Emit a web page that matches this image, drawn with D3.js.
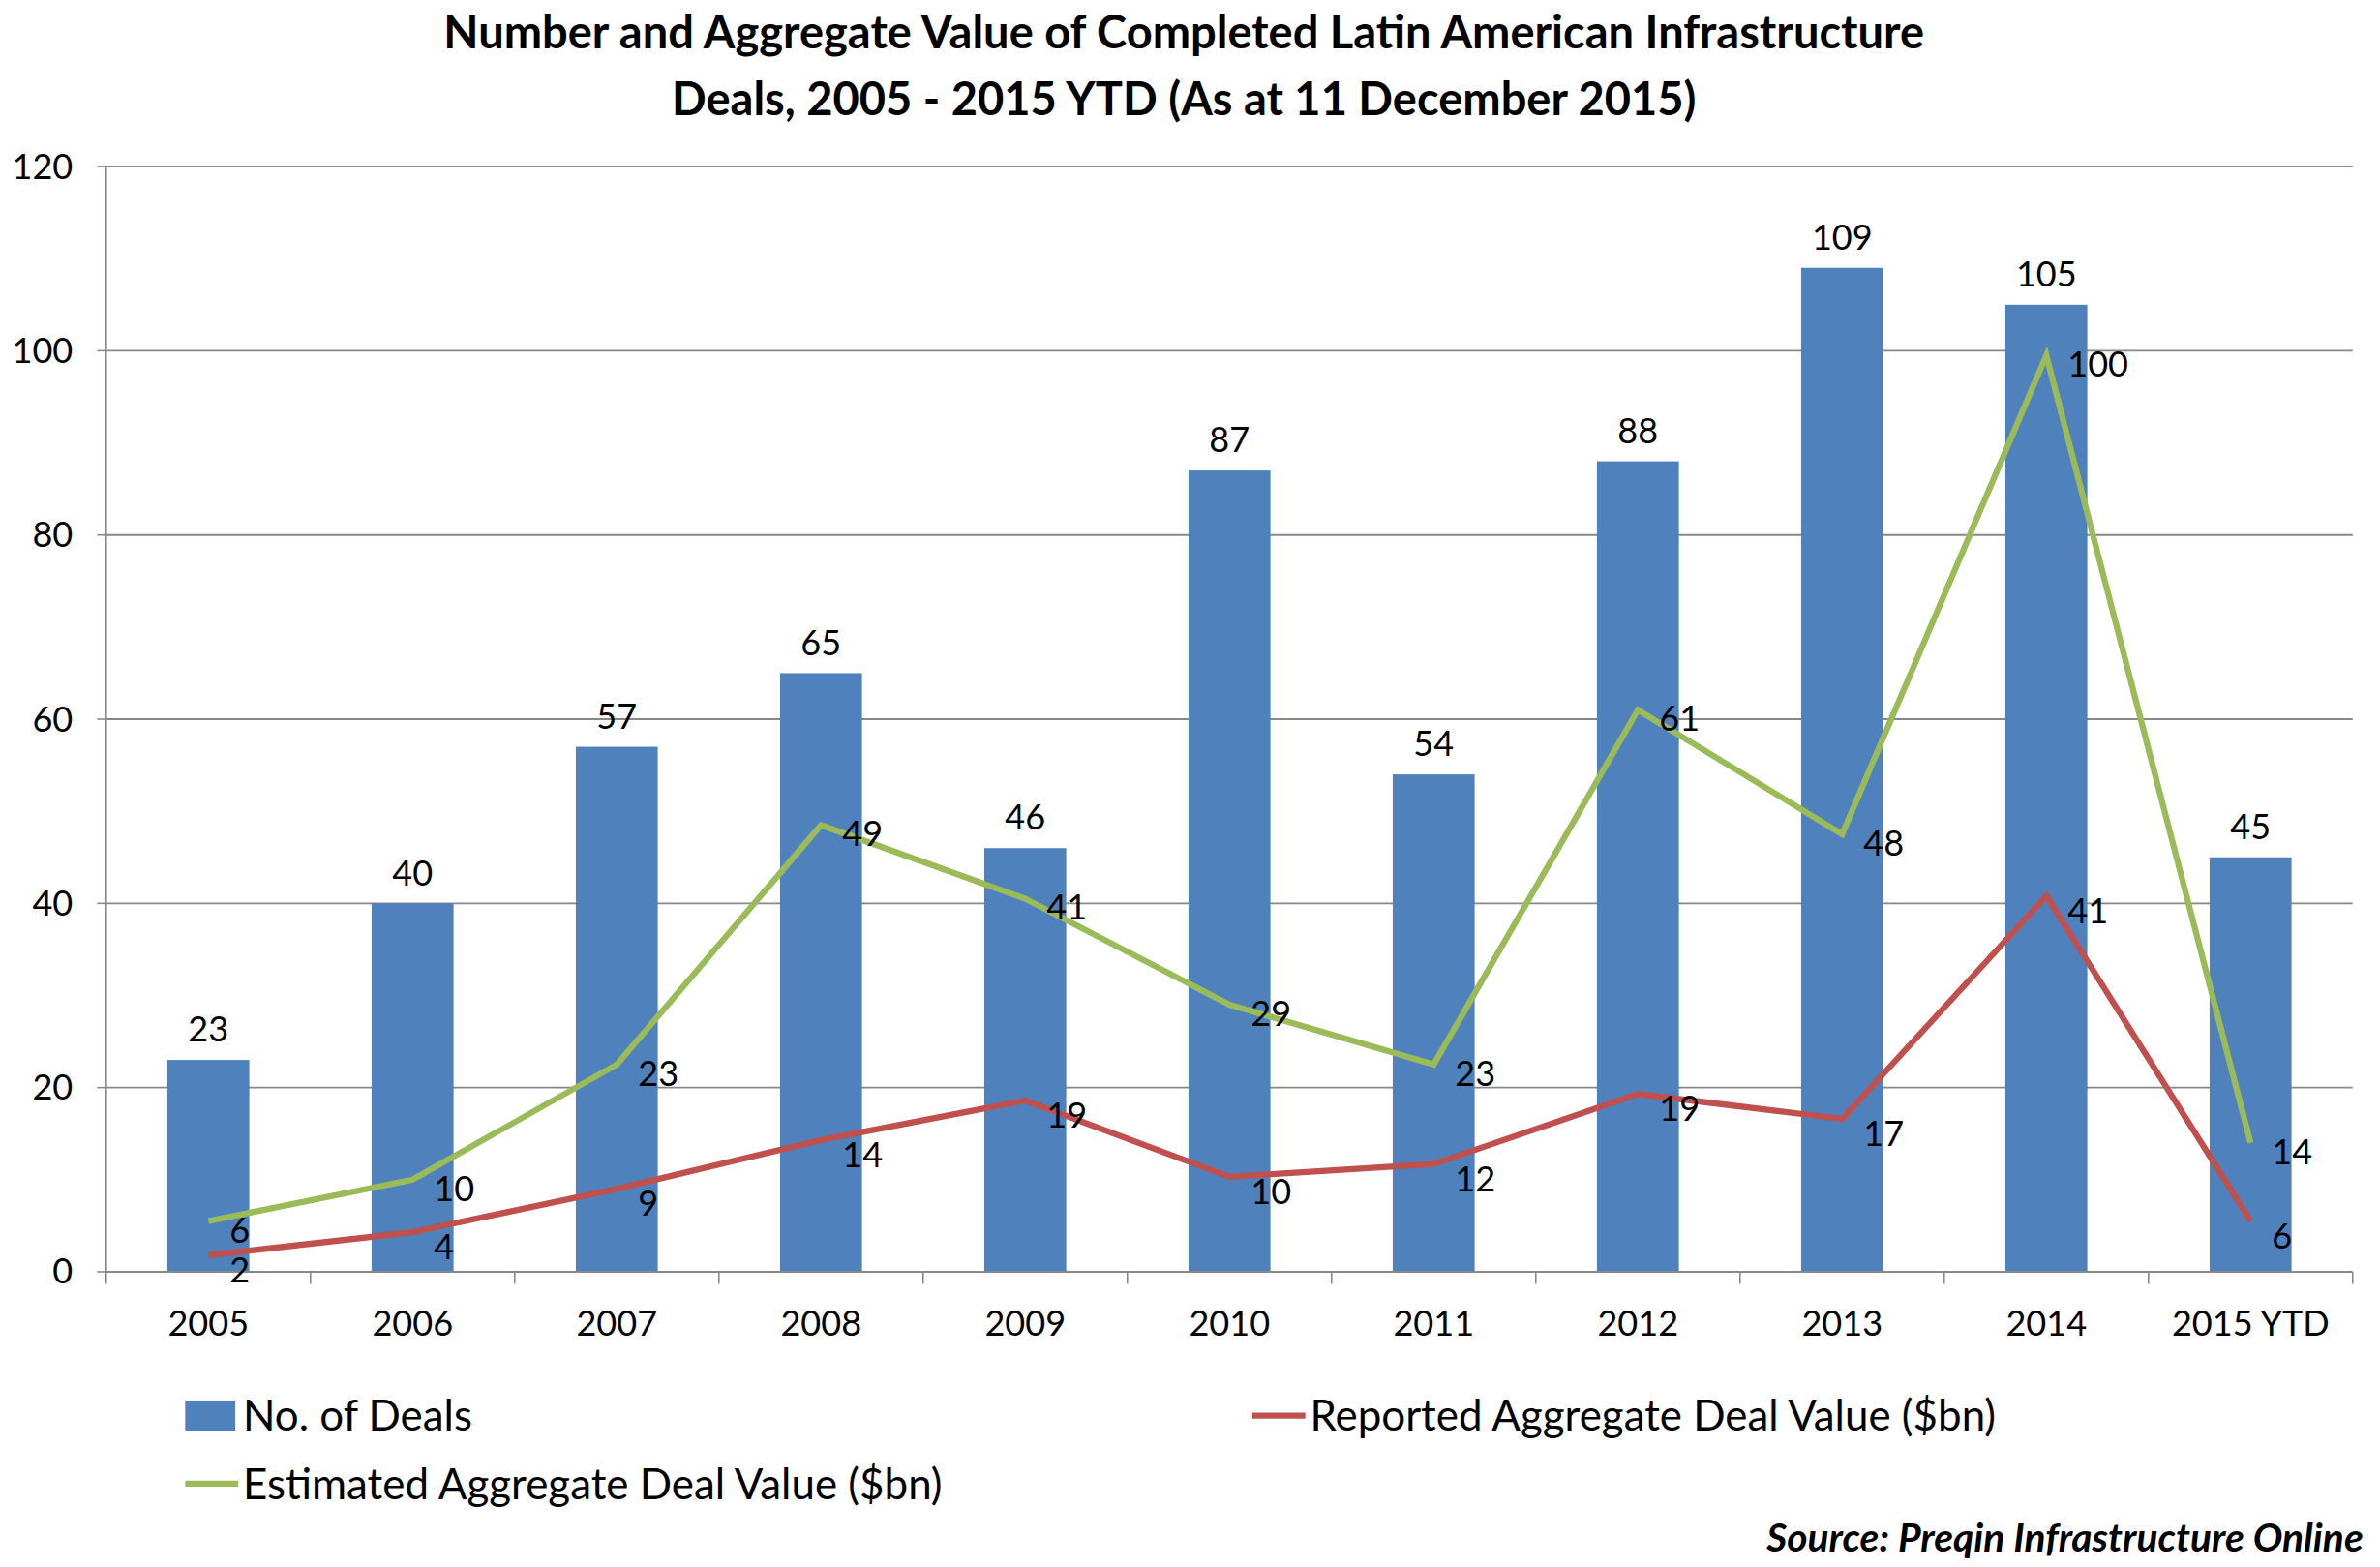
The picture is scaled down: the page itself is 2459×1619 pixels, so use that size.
<!DOCTYPE html>
<html><head><meta charset="utf-8">
<script src="https://cdn.jsdelivr.net/npm/d3@7"></script>
<style>body{margin:0;background:#fff}text{font-family:"Lato","DejaVu Sans",sans-serif}</style>
</head><body>
<svg id="c" width="2459" height="1619" viewBox="0 0 1568 1035" preserveAspectRatio="none"></svg>
<script>
const categories = ["2005","2006","2007","2008","2009","2010","2011","2012","2013","2014","2015 YTD"];
const deals = [23,40,57,65,46,87,54,88,109,105,45];
const reported = [1.8,4.3,9,14.3,18.6,10.3,11.7,19.3,16.6,40.8,5.5];
const estimated = [5.5,10,22.5,48.5,40.5,29,22.5,61,47.5,99.5,14];
const yTicks = [0,20,40,60,80,100,120];

const svg = d3.select("#c");
const L=70,R=1550,T=110,B=840;
const x = d3.scaleBand().domain(categories).range([L,R]);
const y = d3.scaleLinear().domain([0,120]).range([B,T]);

svg.append("text").attr("x",780).attr("y",32).attr("text-anchor","middle").attr("font-size",30).attr("font-weight","bold").text("Number and Aggregate Value of Completed Latin American Infrastructure");
svg.append("text").attr("x",780).attr("y",76).attr("text-anchor","middle").attr("font-size",30).attr("font-weight","bold").text("Deals, 2005 - 2015 YTD (As at 11 December 2015)");

svg.append("g").selectAll("line").data(yTicks.slice(1)).join("line")
 .attr("x1",L).attr("x2",R).attr("y1",d=>y(d)).attr("y2",d=>y(d)).attr("stroke","#888").attr("stroke-width",1.2);
svg.append("line").attr("x1",L).attr("x2",L).attr("y1",T).attr("y2",B).attr("stroke","#888");
svg.append("g").selectAll("line").data(yTicks).join("line").attr("x1",L-6).attr("x2",L).attr("y1",d=>y(d)).attr("y2",d=>y(d)).attr("stroke","#888");
svg.append("g").selectAll("text").data(yTicks).join("text").attr("x",L-22).attr("y",d=>y(d)+8).attr("text-anchor","end").attr("font-size",23).text(d=>d);

const bw=54;
svg.append("g").selectAll("rect").data(deals).join("rect")
 .attr("x",(d,i)=>x(categories[i])+x.bandwidth()/2-bw/2).attr("width",bw)
 .attr("y",d=>y(d)).attr("height",d=>B-y(d)).attr("fill","#4f81bd");
svg.append("g").selectAll("text").data(deals).join("text")
 .attr("x",(d,i)=>x(categories[i])+x.bandwidth()/2).attr("y",d=>y(d)-12).attr("text-anchor","middle").attr("font-size",23).text(d=>d);

svg.append("line").attr("x1",L).attr("x2",R).attr("y1",B).attr("y2",B).attr("stroke","#888").attr("stroke-width",1.2);
svg.append("g").selectAll("line").data(categories.concat(["end"])).join("line")
 .attr("x1",(d,i)=>L+i*x.bandwidth()).attr("x2",(d,i)=>L+i*x.bandwidth()).attr("y1",B).attr("y2",B+8).attr("stroke","#888");
svg.append("g").selectAll("text").data(categories).join("text")
 .attr("x",d=>x(d)+x.bandwidth()/2).attr("y",B+42).attr("text-anchor","middle").attr("font-size",23).text(d=>d);

function series(vals,color,dy){
 const line=d3.line().x((d,i)=>x(categories[i])+x.bandwidth()/2).y(d=>y(d));
 svg.append("path").attr("d",line(vals)).attr("fill","none").attr("stroke",color).attr("stroke-width",4);
 svg.append("g").selectAll("text").data(vals).join("text")
  .attr("x",(d,i)=>x(categories[i])+x.bandwidth()/2+14).attr("y",d=>y(d)+dy).attr("font-size",23).text(d=>Math.round(d));
}
series(reported,"#c0504d",18);
series(estimated,"#9bbb59",14);

svg.append("rect").attr("x",122).attr("y",925).attr("width",33).attr("height",20).attr("fill","#4f81bd");
svg.append("text").attr("x",160).attr("y",945).attr("font-size",28).text("No. of Deals");
svg.append("line").attr("x1",825).attr("x2",860).attr("y1",935).attr("y2",935).attr("stroke","#c0504d").attr("stroke-width",4);
svg.append("text").attr("x",863).attr("y",945).attr("font-size",28).text("Reported Aggregate Deal Value ($bn)");
svg.append("line").attr("x1",122).attr("x2",157).attr("y1",980).attr("y2",980).attr("stroke","#9bbb59").attr("stroke-width",4);
svg.append("text").attr("x",160).attr("y",990).attr("font-size",28).text("Estimated Aggregate Deal Value ($bn)");
svg.append("text").attr("x",1557).attr("y",1025).attr("text-anchor","end").attr("font-size",26).attr("font-style","italic").attr("font-weight","bold").text("Source: Preqin Infrastructure Online");
</script>
</body></html>
